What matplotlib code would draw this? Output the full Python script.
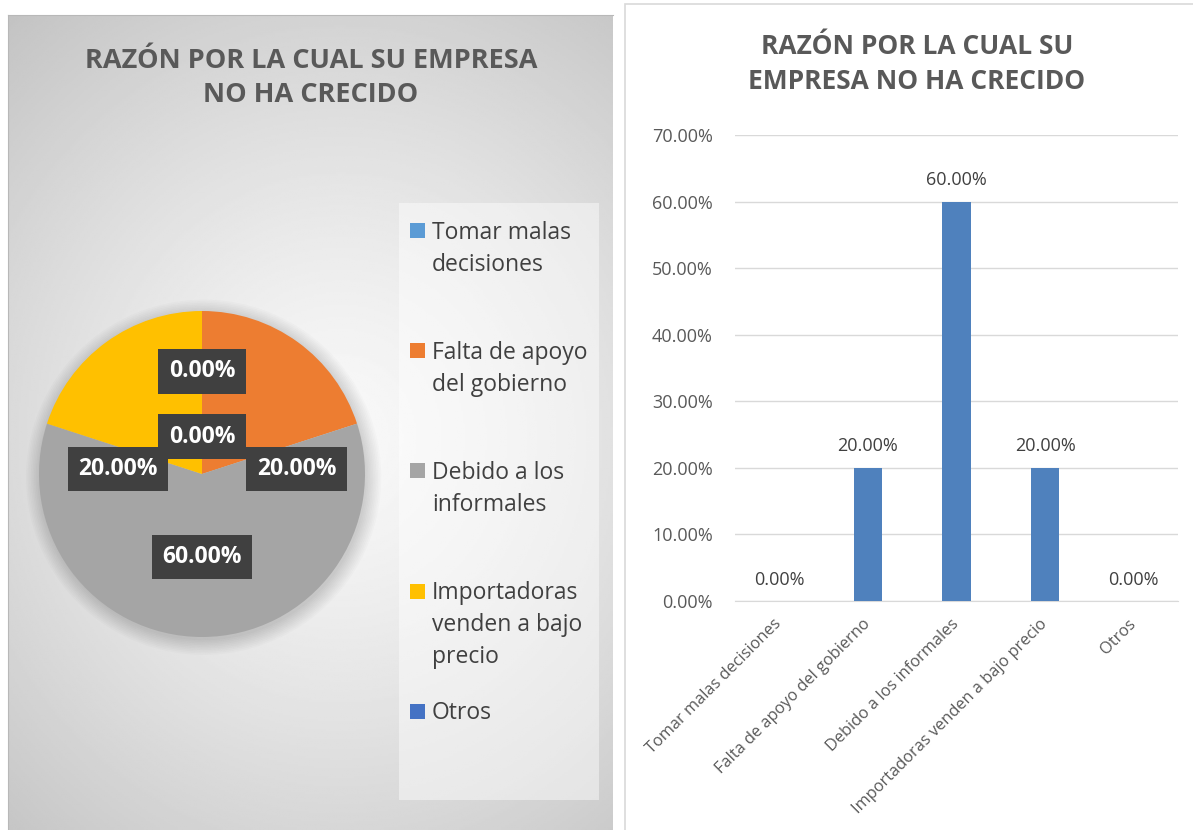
import numpy as np
import matplotlib.pyplot as plt
from matplotlib.patches import Rectangle, Circle

# data
categories = ['Tomar malas decisiones', 'Falta de apoyo del gobierno',
              'Debido a los informales', 'Importadoras venden a bajo precio', 'Otros']
legend_labels = ['Tomar malas\ndecisiones', 'Falta de apoyo\ndel gobierno',
                 'Debido a los\ninformales', 'Importadoras\nvenden a bajo\nprecio', 'Otros']
values = [0.0, 0.20, 0.60, 0.20, 0.0]
pie_colors = ['#5B9BD5', '#ED7D31', '#A5A5A5', '#FFC000', '#4472C4']
bar_color = '#4F81BD'
yticks = [0.0, 0.1, 0.2, 0.3, 0.4, 0.5, 0.6, 0.7]
title_pie = 'RAZÓN POR LA CUAL SU EMPRESA\nNO HA CRECIDO'
title_bar = 'RAZÓN POR LA CUAL SU\nEMPRESA NO HA CRECIDO'

# where Excel put the pie data labels (in pie radius units)
pie_label_pos = [(0, 0.63), (0.58, 0.03), (0, -0.51), (-0.515, 0.03), (0, 0.23)]

plt.rcParams['font.family'] = ['Open Sans', 'DejaVu Sans']

W, H = 1193, 830
fig = plt.figure(figsize=(W / 100, H / 100), dpi=100)


def px_box(x0, y0, x1, y1):
    return [x0 / W, 1 - y1 / H, (x1 - x0) / W, (y1 - y0) / H]


# left panel: gray radial gradient
bg = fig.add_axes(px_box(8, 15, 613, 830))
gx, gy = np.meshgrid(np.linspace(0, 1, 300), np.linspace(0, 1, 400))
dist = np.sqrt(((gx - 0.55) * 1.0) ** 2 + ((gy - 0.52) * 1.25) ** 2)
shade = 0.975 - 0.26 * np.clip(dist, 0, 1) ** 1.3
bg.imshow(shade, cmap='gray', vmin=0, vmax=1, aspect='auto', extent=(0, 1, 0, 1))
bg.set_xticks([])
bg.set_yticks([])
for s in ['right', 'bottom']:
    bg.spines[s].set_visible(False)
for s in ['top', 'left']:
    bg.spines[s].set_color('#b8b8b8')

fig.text(311 / W, 1 - 78 / H, title_pie, ha='center', va='center', fontsize=19.5,
         fontweight='bold', color='#595959', linespacing=1.4)

# pie
ax_pie = fig.add_axes(px_box(39, 311, 365, 637))
for r in np.linspace(1.0, 1.09, 10):
    ax_pie.add_patch(Circle((0.01, -0.02), r, color='black', alpha=0.016, lw=0,
                            zorder=0, clip_on=False))
ax_pie.pie(values, colors=pie_colors, startangle=90, counterclock=False,
           wedgeprops=dict(linewidth=0))
ax_pie.set_xlim(-1, 1)
ax_pie.set_ylim(-1, 1)
ax_pie.set_aspect('equal')
for (lx, ly), v in zip(pie_label_pos, values):
    ax_pie.text(lx, ly, f'{v:.2%}', ha='center', va='center', color='white',
                fontsize=16.5, fontweight='bold', zorder=5,
                bbox=dict(boxstyle='square,pad=0.45', fc='#404040', ec='none'))

# legend
fig.patches.append(Rectangle((399 / W, 1 - 800 / H), 200 / W, 597 / H,
                             transform=fig.transFigure, fc='white', alpha=0.45,
                             ec='none', zorder=1))
for i, (lab, col) in enumerate(zip(legend_labels, pie_colors)):
    yc = 231 + i * 120
    fig.patches.append(Rectangle((410 / W, 1 - (yc + 7.5) / H), 15 / W, 15 / H,
                                 transform=fig.transFigure, fc=col, ec='none',
                                 zorder=2))
    fig.text(432 / W, 1 - (yc - 10) / H, lab, ha='left', va='top', fontsize=16.5,
             color='#404040', linespacing=1.45)

# right panel
fig.patches.append(Rectangle((625 / W, -0.01), 0.7, 1 - 4 / H + 0.01,
                             transform=fig.transFigure, fc='white', ec='#d9d9d9',
                             lw=1.2, zorder=-1))
fig.text(917 / W, 1 - 64 / H, title_bar, ha='center', va='center', fontsize=19,
         fontweight='bold', color='#595959', linespacing=1.4)

ax = fig.add_axes(px_box(735, 135, 1178, 601))
x = np.arange(len(categories))
bars = ax.bar(x, values, width=0.32, color=bar_color, zorder=3)
ax.bar_label(bars, labels=[f'{v:.2%}' for v in values], padding=9, fontsize=13,
             color='#404040')
ax.set_xlim(-0.5, len(categories) - 0.5)
ax.set_ylim(0, 0.7)
ax.set_yticks(yticks)
ax.set_yticklabels([f'{t:.2%}' for t in yticks], fontsize=13, color='#595959')
ax.set_xticks(x)
ax.set_xticklabels(categories, rotation=45, ha='right', va='center',
                   rotation_mode='anchor', fontsize=11.8, color='#595959')
ax.tick_params(axis='y', length=0, pad=16)
ax.tick_params(axis='x', length=0, pad=15)
ax.grid(axis='y', color='#d9d9d9', lw=1, zorder=0)
for s in ['top', 'right', 'left']:
    ax.spines[s].set_visible(False)
ax.spines['bottom'].set_color('#d9d9d9')
ax.set_facecolor('none')

fig.savefig('out.png', dpi=100)
